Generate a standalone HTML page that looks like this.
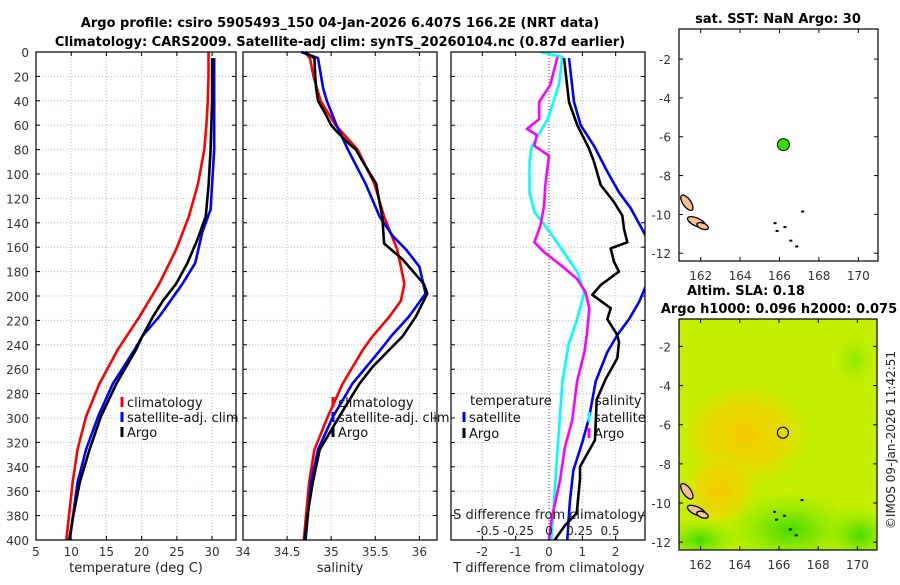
<!DOCTYPE html>
<html><head><meta charset="utf-8"><style>
body{margin:0;background:#fff;}
svg text{font-family:"DejaVu Sans","Liberation Sans",sans-serif;}
</style></head><body>
<svg id="c" width="900" height="580" viewBox="0 0 900 580" xmlns="http://www.w3.org/2000/svg">
<defs>
<radialGradient id="warm1" cx="50%" cy="50%" r="50%"><stop offset="0" stop-color="#f5c800"/><stop offset="0.6" stop-color="#ecd800" stop-opacity="0.8"/><stop offset="1" stop-color="#d8ec00" stop-opacity="0"/></radialGradient>
<radialGradient id="green1" cx="50%" cy="50%" r="50%"><stop offset="0" stop-color="#40dc00"/><stop offset="1" stop-color="#90e800" stop-opacity="0"/></radialGradient>
<clipPath id="clipP3"><rect x="451" y="52" width="194" height="488"/></clipPath>
<clipPath id="clipM2"><rect x="679" y="319" width="198" height="231"/></clipPath>
</defs>
<text x="340" y="27" font-size="13" font-weight="bold" text-anchor="middle">Argo profile: csiro 5905493_150 04-Jan-2026 6.407S 166.2E (NRT data)</text>
<text x="340" y="46" font-size="13" font-weight="bold" text-anchor="middle">Climatology: CARS2009. Satellite-adj clim: synTS_20260104.nc (0.87d earlier)</text>
<g id="g"></g>
</svg>
<script>
// ---------- data ----------
const depthClimT = [0,20,40,60,80,108,135,162,190,217,244,272,299,326,353,400];
const tempClim   = [29.5,29.5,29.4,29.2,28.9,28.0,26.7,24.9,22.5,19.7,16.6,14.0,12.1,10.9,10.2,9.3];
const depthSatT  = [5,40,80,129,148,173,190,217,233,244,272,299,326,353,400];
const tempSat    = [30.3,30.3,30.3,29.8,28.6,27.6,25.8,22.5,20.1,19.0,15.9,13.8,12.1,10.9,9.8];
const depthArgoT = [5,40,80,110,135,154,173,190,204,217,233,244,272,299,326,353,380,400];
const tempArgo   = [30.0,30.0,29.8,29.5,29.1,27.9,26.5,24.9,23.0,21.6,20.1,19.2,16.4,14.2,12.6,11.2,10.3,9.7];

const depthSalClim = [0,5,20,40,60,80,108,135,162,190,204,217,233,244,272,299,326,353,400];
const salClim = [34.70,34.76,34.80,34.88,35.05,35.30,35.49,35.60,35.75,35.83,35.79,35.66,35.47,35.36,35.13,34.96,34.81,34.75,34.69];
const depthSalSat = [0,5,30,40,60,80,108,135,151,162,176,198,217,233,244,272,299,326,353,400];
const salSat = [34.66,34.85,34.91,34.95,35.06,35.19,35.39,35.55,35.70,35.85,36.00,36.07,35.88,35.68,35.56,35.24,35.02,34.85,34.77,34.71];
const depthSalArgo = [0,5,20,30,40,50,60,65,75,80,90,108,124,135,157,170,180,190,198,217,233,244,258,272,299,326,353,380,400];
const salArgo = [34.70,34.81,34.82,34.83,34.85,34.93,35.00,35.06,35.20,35.28,35.36,35.51,35.55,35.58,35.60,35.81,35.93,36.05,36.09,35.96,35.81,35.66,35.47,35.32,35.09,34.87,34.79,34.73,34.70];

const depthTdSat = [5,41,60,77,98,115,128,153,170,189,205,219,232,246,270,300,320,343,370,400];
const tDiffSat = [0.60,0.75,0.95,1.35,1.75,2.10,2.45,2.95,3.4,2.95,2.70,2.40,2.05,1.75,1.40,1.20,1.00,0.73,0.62,0.55];
const depthTdArgo = [5,41,60,79,90,109,123,134,145,156,161,172,180,191,199,210,219,232,238,251,268,285,318,340,350,378,388,400];
const tDiffArgo = [0.45,0.60,0.85,1.20,1.35,1.55,1.95,2.20,2.25,2.35,1.85,1.95,2.10,1.55,1.30,1.85,1.75,2.05,2.10,2.05,1.70,1.43,1.38,0.93,0.93,0.83,0.48,0.17];
const depthSdSat = [0,4,27,55,77,90,115,131,148,164,180,197,219,240,270,340,400];
const sDiffSat = [-0.07,0.11,0.08,-0.01,-0.14,-0.16,-0.16,-0.12,0.01,0.12,0.23,0.29,0.23,0.16,0.11,0.06,0.02];
const depthSdArgo = [4,27,41,55,63,68,77,85,109,126,142,156,164,175,186,197,210,232,246,270,302,324,351,384,400];
const sDiffArgo = [0.07,0.01,-0.08,-0.08,-0.18,-0.10,-0.12,0.00,-0.03,-0.04,-0.07,-0.12,-0.04,0.10,0.23,0.30,0.33,0.31,0.29,0.23,0.19,0.13,0.09,0.02,0.00];

const tTicks = [5,10,15,20,25,30];
const sTicks = [34,34.5,35,35.5,36];
const tdTicks = [-2,-1,0,1,2];
const sdTicks = [-0.5,-0.25,0,0.25,0.5];
const depthTicks = [0,20,40,60,80,100,120,140,160,180,200,220,240,260,280,300,320,340,360,380,400];
const lonTicks = [162,164,166,168,170];
const latTicks = [-2,-4,-6,-8,-10,-12];
const argoLon = 166.2, argoLat = -6.407;

// ---------- helpers ----------
const NS="http://www.w3.org/2000/svg";
const G=document.getElementById('g');
function mk(tag,attrs,parent){const e=document.createElementNS(NS,tag);for(const k in attrs)e.setAttribute(k,attrs[k]);(parent||G).appendChild(e);return e;}
function txt(s,attrs,parent){const e=mk('text',attrs,parent);e.textContent=s;return e;}
const yD = d => 52 + d*(488/400);
const P1={x0:36,x1:236,lo:5,hi:33.4};
const P2={x0:243,x1:437,lo:34,hi:36.2};
const P3={x0:451,x1:645,lo:-2.94,hi:2.88};
const sx=(p,v)=>p.x0+(v-p.lo)/(p.hi-p.lo)*(p.x1-p.x0);
const sdx=v=>549+v*122;

function frame(p,name){
  const g=mk('g',{});
  
  
  depthTicks.forEach(d=>{ if(d>0&&d<400){const l=mk('line',{x1:p.x0,x2:p.x1,y1:yD(d),y2:yD(d),stroke:'#b4bce4','stroke-width':1,'stroke-dasharray':'1,2'},g);
    }
    mk('line',{x1:p.x0,x2:p.x0+4,y1:yD(d),y2:yD(d),stroke:'#000'},g);
    mk('line',{x1:p.x1-4,x2:p.x1,y1:yD(d),y2:yD(d),stroke:'#000'},g);
  });
  return g;
}
function vgrid(p,ticks,g,labels,ly){
  ticks.forEach(t=>{const x=sx(p,t);
    if(x>p.x0+1&&x<p.x1-1){const l=mk('line',{x1:x,x2:x,y1:52,y2:540,stroke:'#b4bce4','stroke-width':1,'stroke-dasharray':'1,2'},g);
    }
    mk('line',{x1:x,x2:x,y1:540,y2:536,stroke:'#000'},g);mk('line',{x1:x,x2:x,y1:52,y2:56,stroke:'#000'},g);
    if(labels){const tt=txt(String(t),{x:x,y:ly,'font-size':12,fill:'#333','text-anchor':'middle'},g);
      }
  });
}
function line(xs,ds,fx,color,name,clip){
  const pts=xs.map((v,i)=>fx(v).toFixed(1)+','+yD(ds[i]).toFixed(1)).join(' ');
  const a={points:pts,fill:'none',stroke:color,'stroke-width':2.6,'stroke-linejoin':'round'};
  if(clip)a['clip-path']='url(#'+clip+')';
  const e=mk('polyline',a);
  
  
}
function box(p,name){const r=mk('rect',{x:p.x0,y:52,width:p.x1-p.x0,height:488,fill:'none',stroke:'#000','stroke-width':1.2});
  }
function legend(x,y,color,label,name){
  const g=mk('g',{});
  mk('line',{x1:x,x2:x,y1:y-10,y2:y,stroke:color,'stroke-width':3},g);
  txt(label,{x:x+5,y:y,'font-size':13,fill:'#111'},g);
}

// ---------- panel 1 ----------
let g1=frame(P1,'temperature-panel');
vgrid(P1,tTicks,g1,true,556);
depthTicks.forEach(d=>{const t=txt(String(d),{x:29,y:yD(d)+5,'font-size':12,fill:'#333','text-anchor':'end'});
  });
line(tempClim,depthClimT,v=>sx(P1,v),'#ff0000','temp-climatology-line');
line(tempSat,depthSatT,v=>sx(P1,v),'#0000ff','temp-satellite-line');
line(tempArgo,depthArgoT,v=>sx(P1,v),'#000000','temp-argo-line');
box(P1,'temperature-axes-box');
txt('temperature (deg C)',{x:136,y:572,'font-size':13,fill:'#222','text-anchor':'middle'});
legend(122,407,'#ff0000','climatology','legend-climatology');
legend(122,422,'#0000ff','satellite-adj. clim','legend-satellite');
legend(122,437,'#000000','Argo','legend-argo');

// ---------- panel 2 ----------
let g2=frame(P2,'salinity-panel');
vgrid(P2,sTicks,g2,true,556);
line(salClim,depthSalClim,v=>sx(P2,v),'#ff0000','sal-climatology-line');
line(salSat,depthSalSat,v=>sx(P2,v),'#0000ff','sal-satellite-line');
line(salArgo,depthSalArgo,v=>sx(P2,v),'#000000','sal-argo-line');
box(P2,'salinity-axes-box');
txt('salinity',{x:340,y:572,'font-size':13,fill:'#222','text-anchor':'middle'});
legend(333,407,'#ff0000','climatology','legend-climatology-2');
legend(333,422,'#0000ff','satellite-adj. clim','legend-satellite-2');
legend(333,437,'#000000','Argo','legend-argo-2');

// ---------- panel 3 ----------
let g3=frame(P3,'difference-panel');
vgrid(P3,tdTicks,g3,true,556);
mk('line',{x1:549,x2:549,y1:52,y2:540,stroke:'#444','stroke-width':1,'stroke-dasharray':'1,2'});
line(sDiffSat,depthSdSat,sdx,'#00ffff','sal-diff-satellite-line','clipP3');
line(sDiffArgo,depthSdArgo,sdx,'#ff00ff','sal-diff-argo-line','clipP3');
line(tDiffSat,depthTdSat,v=>sx(P3,v),'#0000ff','temp-diff-satellite-line','clipP3');
line(tDiffArgo,depthTdArgo,v=>sx(P3,v),'#000000','temp-diff-argo-line','clipP3');
box(P3,'difference-axes-box');
sdTicks.forEach(t=>{const e=txt(String(t),{x:sdx(t),y:535,'font-size':12,fill:'#222','text-anchor':'middle'});
  });
txt('S difference from climatology',{x:549,y:519,'font-size':13,fill:'#222','text-anchor':'middle'});
txt('T difference from climatology',{x:549,y:572,'font-size':13,fill:'#222','text-anchor':'middle'});
txt('temperature',{x:470,y:405,'font-size':13,fill:'#111'});
legend(464,422,'#0000ff','satellite','legend-temp-satellite');
legend(464,438,'#000000','Argo','legend-temp-argo');
txt('salinity',{x:595,y:405,'font-size':13,fill:'#111'});
legend(589,422,'#00ffff','satellite','legend-sal-satellite');
legend(589,438,'#ff00ff','Argo','legend-sal-argo');

// ---------- maps ----------
function mapAxes(x0,y0,x1,y1,latTop,latBot,name,title){
  const lonL=160.9,lonR=171.0;
  const mx=v=>x0+(v-lonL)/(lonR-lonL)*(x1-x0);
  const my=v=>y0+(latTop-v)/(latTop-latBot)*(y1-y0);
  const g=mk('g',{});
  lonTicks.forEach(t=>{mk('line',{x1:mx(t),x2:mx(t),y1:y1,y2:y1-4,stroke:'#000'},g);mk('line',{x1:mx(t),x2:mx(t),y1:y0,y2:y0+4,stroke:'#000'},g);
    const e=txt(String(t),{x:mx(t),y:y1+19,'font-size':12,fill:'#333','text-anchor':'middle'},g);});
  latTicks.forEach(t=>{mk('line',{x1:x0,x2:x0+4,y1:my(t),y2:my(t),stroke:'#000'},g);mk('line',{x1:x1,x2:x1-4,y1:my(t),y2:my(t),stroke:'#000'},g);
    const e=txt(String(t),{x:x0-8,y:my(t)+5,'font-size':12,fill:'#333','text-anchor':'end'},g);});
  return {mx,my,g};
}
function islands(mx,my,parent){
  const isl=[[161.3,-9.4,9,4,55],[161.8,-10.4,10,4,25],[162.1,-10.6,6,3,20]];
  isl.forEach(s=>{const e=mk('ellipse',{cx:mx(s[0]),cy:my(s[1]),rx:s[2],ry:s[3],fill:'#f5c094',stroke:'#000','stroke-width':1.3,transform:`rotate(${s[4]} ${mx(s[0])} ${my(s[1])})`},parent);
    });
  [[165.8,-10.8],[166.5,-11.3],[166.8,-11.6],[167.1,-9.8],[166.2,-10.6],[165.7,-10.4]].forEach(p=>{
    const e=mk('rect',{x:mx(p[0]),y:my(p[1]),width:3,height:2,fill:'#000'},parent);});
}
// map 1
const m1=mapAxes(679,29,878,261,-0.45,-12.4,'sst-map','sat. SST');
islands(m1.mx,m1.my,m1.g);
const mk1=mk('circle',{cx:m1.mx(argoLon),cy:m1.my(argoLat),r:6,fill:'#33e000',stroke:'#000','stroke-width':1});

mk('rect',{x:679,y:29,width:199,height:232,fill:'none',stroke:'#000','stroke-width':1.2});
txt('sat. SST: NaN Argo: 30',{x:778,y:23,'font-size':13,'font-weight':'bold','text-anchor':'middle'});

// map 2
const bg=mk('g',{'clip-path':'url(#clipM2)'});

mk('rect',{x:679,y:319,width:198,height:231,fill:'#c4f000'},bg);
mk('ellipse',{cx:745,cy:435,rx:70,ry:55,fill:'url(#warm1)'},bg);
mk('ellipse',{cx:720,cy:490,rx:40,ry:40,fill:'url(#warm1)'},bg);
mk('ellipse',{cx:790,cy:530,rx:70,ry:40,fill:'url(#green1)'},bg);
mk('ellipse',{cx:860,cy:535,rx:35,ry:30,fill:'url(#green1)'},bg);
mk('ellipse',{cx:700,cy:540,rx:40,ry:22,fill:'url(#green1)'},bg);
mk('ellipse',{cx:855,cy:360,rx:22,ry:28,fill:'url(#green1)',opacity:0.4},bg);
const m2=mapAxes(679,319,877,550,-0.6,-12.4,'sla-map','Altim');
islands(m2.mx,m2.my,m2.g);
const mk2=mk('circle',{cx:m2.mx(argoLon),cy:m2.my(argoLat),r:5.5,fill:'none',stroke:'#000','stroke-width':1.2});

mk('rect',{x:679,y:319,width:198,height:231,fill:'none',stroke:'#000','stroke-width':1.2});
txt('Altim. SLA: 0.18',{x:746,y:295,'font-size':13,'font-weight':'bold','text-anchor':'middle'});
txt('Argo h1000: 0.096 h2000: 0.075',{x:779,y:313,'font-size':13,'font-weight':'bold','text-anchor':'middle'});
txt('©IMOS 09-Jan-2026 11:42:51',{x:0,y:0,'font-size':12,fill:'#222','text-anchor':'middle',transform:'translate(895,440) rotate(-90)'});
</script>
</body></html>
